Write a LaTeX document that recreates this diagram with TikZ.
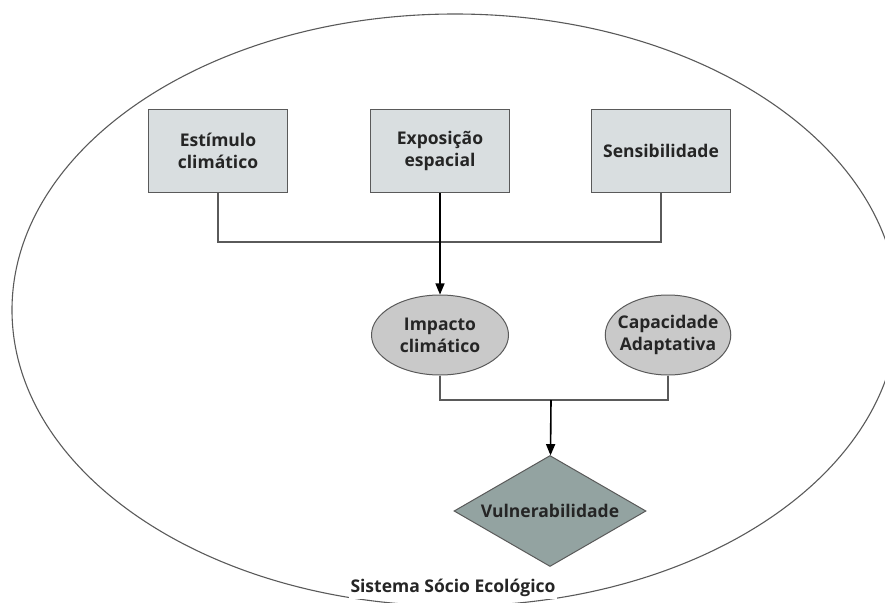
\documentclass[tikz,border=0pt]{standalone}
\usepackage{fontspec}
\setmainfont{Open Sans}
\usetikzlibrary{positioning}
\usetikzlibrary{arrows}
\usetikzlibrary{shapes}
\definecolor{boxfill}{HTML}{D9DEE0}
\definecolor{ovalfill}{HTML}{C9C9C9}
\definecolor{diamfill}{HTML}{93A3A1}
\definecolor{edgegray}{HTML}{5A5A5A}
\definecolor{textgray}{HTML}{252525}
\tikzset{
        stagenode/.style={align=center,inner sep=0pt,font=\fontsize{17.5}{22}\selectfont\bfseries,text=textgray},
        % Input factors
        node_factor/.style={stagenode, rectangle, draw=edgegray, line width=1.4pt, fill=boxfill, minimum width=139pt, minimum height=83pt},
        % Intermediate results
        node_result/.style={stagenode, ellipse, draw=edgegray, line width=1pt, fill=ovalfill, minimum width=137pt, minimum height=80pt},
        % Final outcome
        node_outcome/.style={stagenode, diamond, aspect=1.73, draw=edgegray, line width=1pt, fill=diamfill, minimum width=192pt, minimum height=111pt},
        % Plain joining lines
        join_line/.style={draw=edgegray, line width=1.3pt},
        % Arrow lines
        flow_line/.style={draw=black, line width=1.6pt, -triangle 45}
}
\begin{document}
\begin{tikzpicture}[x=1pt,y=-1pt]
    \useasboundingbox (0,0) rectangle (885,602);
    % outer system
    \draw[edgegray, line width=1.1pt] (455,310) ellipse [x radius=443, y radius=296];
    \node[fill=white, inner sep=2pt, font=\fontsize{17.5}{20}\selectfont\bfseries, text=textgray] (system) at (453,588) {Sistema Sócio Ecológico};

    \node[node_factor] (stimulus) at (218,151) {Estímulo\\climático};
    \node[node_factor] (exposure) at (440,151) {Exposição\\espacial};
    \node[node_factor] (sensitivity) at (661,151) {Sensibilidade};

    \node[node_result] (impact) at (440,335) {Impacto\\climático};
    \node[node_result, minimum width=125pt, inner xsep=-6pt] (capacity) at (668,335) {Capacidade\\Adaptativa};

    \node[node_outcome] (vulner) at (550,511) {Vulnerabilidade};

    \coordinate (join1) at (440,242);
    \coordinate (join2) at (551,400);

    \draw[join_line] (stimulus) |- (join1);
    \draw[join_line] (sensitivity) |- (join1);
    \draw[flow_line] (exposure) -- (impact);
    \draw[join_line] (impact) |- (join2);
    \draw[join_line] (capacity) |- (join2);
    \draw[flow_line] (join2) -- (vulner);
\end{tikzpicture}
\end{document}
